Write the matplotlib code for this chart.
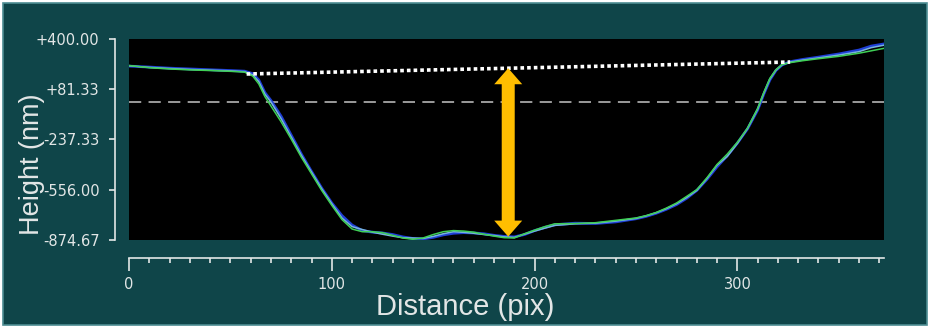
import numpy as np
import matplotlib
matplotlib.use("Agg")
import matplotlib.pyplot as plt
from matplotlib.patches import Rectangle
from matplotlib.ticker import MultipleLocator, FixedLocator, FixedFormatter

# ---------------- data ----------------
distance = [0, 10, 20, 30, 40, 50, 57, 61, 64, 67, 70, 75, 80, 85, 90, 95, 100,
            105, 110, 115, 120, 125, 130, 135, 140, 145, 150, 155, 160, 165, 170,
            175, 180, 185, 190, 195, 200, 205, 210, 220, 230, 240, 250, 255, 260,
            265, 270, 275, 280, 285, 290, 295, 300, 305, 310, 313, 316, 319, 322,
            326, 332, 340, 350, 360, 366, 372]

height_blue = [228, 222, 215, 210, 205, 200, 196, 180, 140, 60, 10, -90, -210, -330,
               -440, -545, -640, -720, -780, -815, -825, -830, -840, -855, -865, -868,
               -858, -842, -832, -828, -830, -835, -845, -852, -855, -840, -815, -795,
               -778, -768, -770, -760, -740, -725, -705, -680, -650, -610, -560, -490,
               -410, -340, -260, -170, -50, 50, 140, 200, 235, 256, 270, 285, 305, 330,
               355, 368]

height_cyan = [230, 220, 213, 207, 202, 198, 193, 172, 130, 50, 0, -105, -222, -338,
               -445, -550, -645, -735, -790, -808, -825, -838, -850, -860, -862, -865,
               -852, -835, -822, -826, -832, -840, -846, -855, -858, -838, -818, -800,
               -782, -772, -768, -755, -738, -722, -702, -676, -645, -605, -560, -485,
               -400, -345, -262, -168, -45, 55, 145, 202, 236, 254, 266, 280, 298, 320,
               345, 360]

height_green = [232, 218, 210, 204, 200, 195, 190, 165, 115, 35, -25, -125, -235, -350,
                -455, -560, -655, -745, -805, -822, -822, -828, -845, -862, -870, -862,
                -840, -822, -815, -818, -825, -838, -850, -860, -862, -835, -812, -790,
                -772, -770, -765, -750, -735, -720, -700, -672, -640, -598, -555, -480,
                -395, -330, -255, -165, -40, 60, 150, 205, 238, 250, 262, 275, 290, 310,
                325, 340]

baseline_x = [58, 326]          # dotted reference line (start, end)
baseline_y = [178, 254]
zero_level = 0                  # dashed line
arrow_x = 187

ytick_vals = [400.00, 81.33, -237.33, -556.00, -874.67]
ytick_labels = ["+400.00", "+81.33", "-237.33", "-556.00", "-874.67"]
xtick_major = [0, 100, 200, 300]

# ---------------- style ----------------
BG = "#0f4549"
FG = "#e2e6e6"
W, H = 930, 328
fig = plt.figure(figsize=(W / 100, H / 100), dpi=100, facecolor="white")
fig.patches.append(Rectangle((3 / W, 3 / H), 924 / W, 322 / H, transform=fig.transFigure,
                             facecolor=BG, edgecolor="#4d8c92", lw=1.2, zorder=-10))

ax = fig.add_axes([129 / W, 1 - 240 / H, 755 / W, 201 / H])
ax.set_zorder(5)
ax.set_facecolor("black")
ax.set_xlim(0, 372.3)
ax.set_ylim(-874.67, 400)

ax.plot(distance, height_blue, color="#1f3fd6", lw=2.0, zorder=3)
ax.plot(distance, height_cyan, color="#78b4dc", lw=1.1, zorder=4)
ax.plot(distance, height_green, color="#3fcf55", lw=1.1, zorder=5)

ax.axhline(zero_level, color="#c4c4c4", lw=1.1, dashes=(8, 4.8), zorder=2)
ax.plot(baseline_x, baseline_y, color="white", lw=2.6, linestyle=(0, (1, 0.85)),
        dash_capstyle="butt", zorder=6)

# double-headed arrow: full arrow pointing up + a lone head pointing down
x_per_px = 372.3 / 755
y_per_px = (400 + 874.67) / 201
top = np.interp(arrow_x, baseline_x, baseline_y)
bottom = np.interp(arrow_x, distance, height_blue)
head_len = 16 * y_per_px
shaft_start = bottom + 12 * y_per_px
ax.arrow(arrow_x, shaft_start, 0, top - shaft_start, width=13 * x_per_px,
         head_width=28 * x_per_px, head_length=head_len,
         length_includes_head=True, color="#ffbe00", lw=0, zorder=7)
ax.arrow(arrow_x, bottom + head_len, 0, -head_len, width=13 * x_per_px,
         head_width=28 * x_per_px, head_length=head_len,
         length_includes_head=True, color="#ffbe00", lw=0, zorder=7)

# spines and ticks
for s in ("top", "right"):
    ax.spines[s].set_visible(False)
ax.spines["left"].set_position(("outward", 10))
ax.spines["bottom"].set_position(("outward", 13))
ax.spines["bottom"].set_bounds(0, 372.3)
for s in ("left", "bottom"):
    ax.spines[s].set_color(FG)
    ax.spines[s].set_linewidth(1.2)

ax.yaxis.set_major_locator(FixedLocator(ytick_vals))
ax.yaxis.set_major_formatter(FixedFormatter(ytick_labels))
ax.xaxis.set_major_locator(FixedLocator(xtick_major))
ax.xaxis.set_minor_locator(MultipleLocator(10))

ax.tick_params(axis="y", which="major", direction="out", length=4.3, width=1.2,
               color=FG, labelcolor=FG, labelsize=10.5, pad=7)
ax.tick_params(axis="x", which="major", direction="out", length=9.4, width=1.2,
               color=FG, labelcolor=FG, labelsize=10.5, pad=4.5)
ax.tick_params(axis="x", which="minor", direction="out", length=3.6, width=1.2,
               color=FG)

fig.text(465 / W, 1 - 307 / H, "Distance (pix)", color=FG, fontsize=21,
         ha="center", va="center", family="Liberation Sans")
fig.text(32 / W, 1 - 164 / H, "Height (nm)", color=FG, fontsize=19.5, rotation=90,
         ha="center", va="center", family="Liberation Sans")

fig.savefig("out.png", dpi=100, facecolor=fig.get_facecolor())
